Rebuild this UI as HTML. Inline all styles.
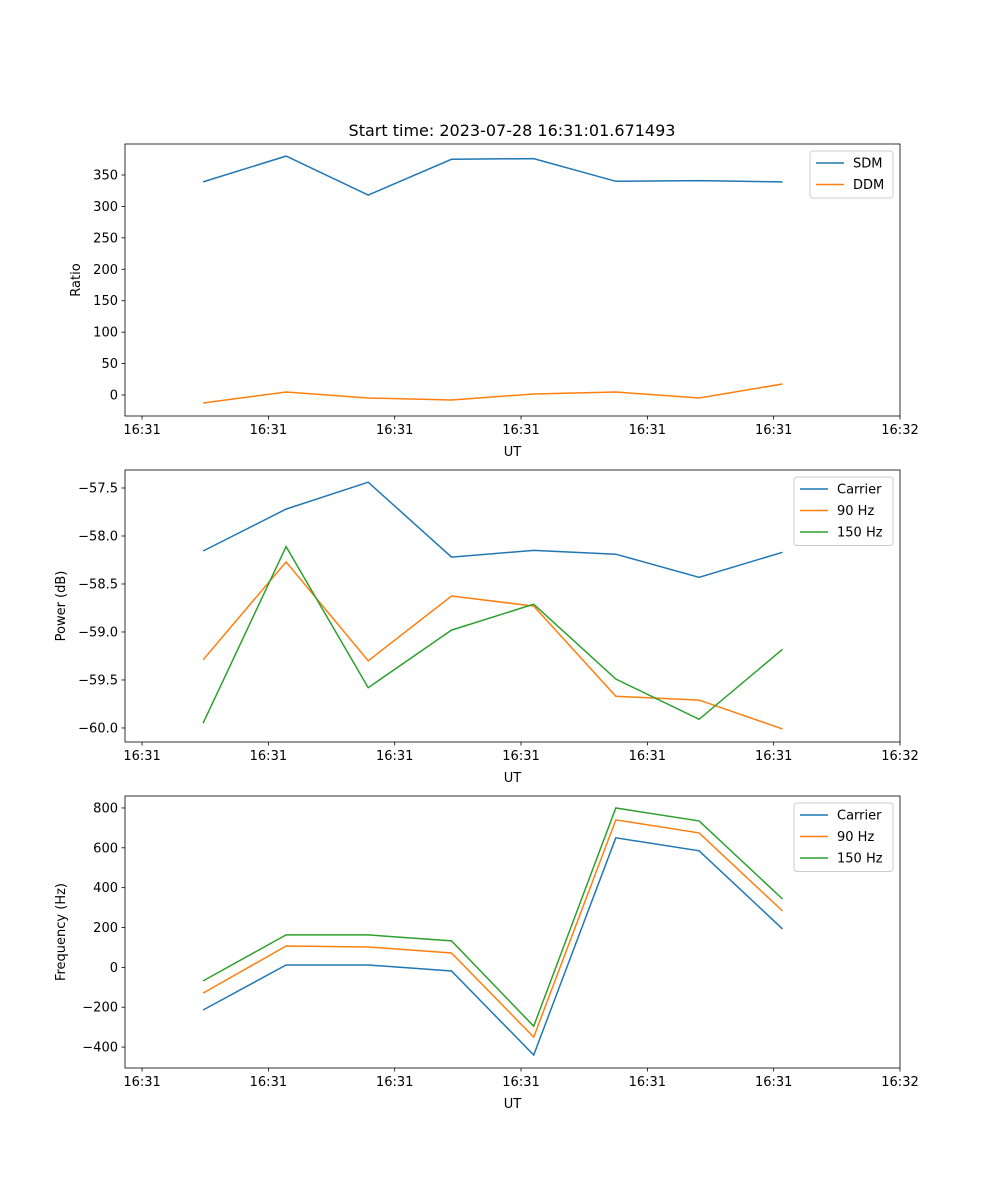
<!DOCTYPE html>
<html><head><meta charset="utf-8"><style>
body{margin:0;background:#fff}
svg{display:block;font-family:"DejaVu Sans","Liberation Sans",sans-serif}
</style></head><body>
<svg id="fig" width="1000" height="1200" xmlns="http://www.w3.org/2000/svg"></svg>
<script>
const times=[4.83,11.4,17.9,24.5,31.0,37.5,44.1,50.7];
const xTickVals=[0,10,20,30,40,50,60];
const xTickLabels=["16:31","16:31","16:31","16:31","16:31","16:31","16:32"];
const sdm=[339,380,318,375,376,340,341,339];
const ddm=[-12.7,4.8,-4.8,-8,1.6,4.8,-4.8,17.5];
const pCarrier=[-58.156,-57.72,-57.44,-58.22,-58.15,-58.19,-58.43,-58.17];
const p90=[-59.29,-58.27,-59.30,-58.625,-58.73,-59.67,-59.71,-60.01];
const p150=[-59.95,-58.11,-59.58,-58.98,-58.71,-59.49,-59.91,-59.18];
const fCarrier=[-214,12,12,-18,-440,650,585,193];
const f90=[-129,107,102,72,-350,740,675,283];
const f150=[-68,163,163,133,-295,800,735,343];
const ratioTicks=[0,50,100,150,200,250,300,350];
const powerTicks=[-60.0,-59.5,-59.0,-58.5,-58.0,-57.5];
const freqTicks=[-400,-200,0,200,400,600,800];

const NS="http://www.w3.org/2000/svg";
const svg=document.getElementById('fig');
function el(tag,attrs,parent,text){const e=document.createElementNS(NS,tag);for(const k in attrs)e.setAttribute(k,attrs[k]);if(text!==undefined)e.textContent=text;(parent||svg).appendChild(e);return e;}
const L=125,R=900,xMin=-1.35,xMax=60;
const xs=v=>L+(v-xMin)/(xMax-xMin)*(R-L);
const colors=["#1f77b4","#ff7f0e","#2ca02c"];

function panel(name,top,yMin,yMax,yTicks,fmt,ylabel,series,labels,legW){
  const bot=top+272;
  const ys=v=>bot-(v-yMin)/(yMax-yMin)*(bot-top);
  const g=el('g',{});
  
  
  series.forEach((s,i)=>{
    const p=el('polyline',{points:s.map((v,j)=>xs(times[j]).toFixed(1)+','+ys(v).toFixed(1)).join(' '),fill:'none',stroke:colors[i],'stroke-width':1.5},g);
    
    
  });
  const fr=el('rect',{x:L,y:top,width:R-L,height:bot-top,fill:'none',stroke:'#000','stroke-width':0.8},g);
  
  
  xTickVals.forEach((v,i)=>{
    const x=xs(v);
    el('line',{x1:x,x2:x,y1:bot,y2:bot+3.5,stroke:'#000','stroke-width':0.8},g);
    const t=el('text',{x:x,y:bot+18,'font-size':13,'text-anchor':'middle'},g,xTickLabels[i]);
    
    
  });
  yTicks.forEach(v=>{
    const y=ys(v);
    el('line',{x1:L-3.5,x2:L,y1:y,y2:y,stroke:'#000','stroke-width':0.8},g);
    const t=el('text',{x:L-7,y:y+4.5,'font-size':13,'text-anchor':'end'},g,fmt(v));
    
    
  });
  const xl=el('text',{x:(L+R)/2,y:bot+40,'font-size':13,'text-anchor':'middle'},g,'UT');
  
  
  const lx=name==='ratio'?80:65;
  const yl=el('text',{x:lx,y:(top+bot)/2,'font-size':13,'text-anchor':'middle',transform:`rotate(-90 ${lx} ${(top+bot)/2})`},g,ylabel);
  
  
  const lg=el('g',{},g);
  
  
  const bx=R-7-legW,by=top+7;
  el('rect',{x:bx,y:by,width:legW,height:labels.length*21.5+4,fill:'#fff',stroke:'#ccc',rx:3},lg);
  labels.forEach((lab,i)=>{
    const yy=by+12+i*21.5;
    el('line',{x1:bx+6,x2:bx+34,y1:yy,y2:yy,stroke:colors[i],'stroke-width':1.5},lg);
    const t=el('text',{x:bx+43,y:yy+4.5,'font-size':13},lg,lab);
    
    
  });
}
const title=el('text',{x:512,y:136,'font-size':16,'text-anchor':'middle'},svg,'Start time: 2023-07-28 16:31:01.671493');


panel('ratio',144,-33.4,399.3,ratioTicks,v=>String(v),'Ratio',[sdm,ddm],['SDM','DDM'],83);
panel('power',470,-60.146,-57.3125,powerTicks,v=>v.toFixed(1).replace('-','\u2212'),'Power (dB)',[pCarrier,p90,p150],['Carrier','90 Hz','150 Hz'],99);
panel('frequency',796,-505,860,freqTicks,v=>String(v).replace('-','\u2212'),'Frequency (Hz)',[fCarrier,f90,f150],['Carrier','90 Hz','150 Hz'],99);
</script>
</body></html>
